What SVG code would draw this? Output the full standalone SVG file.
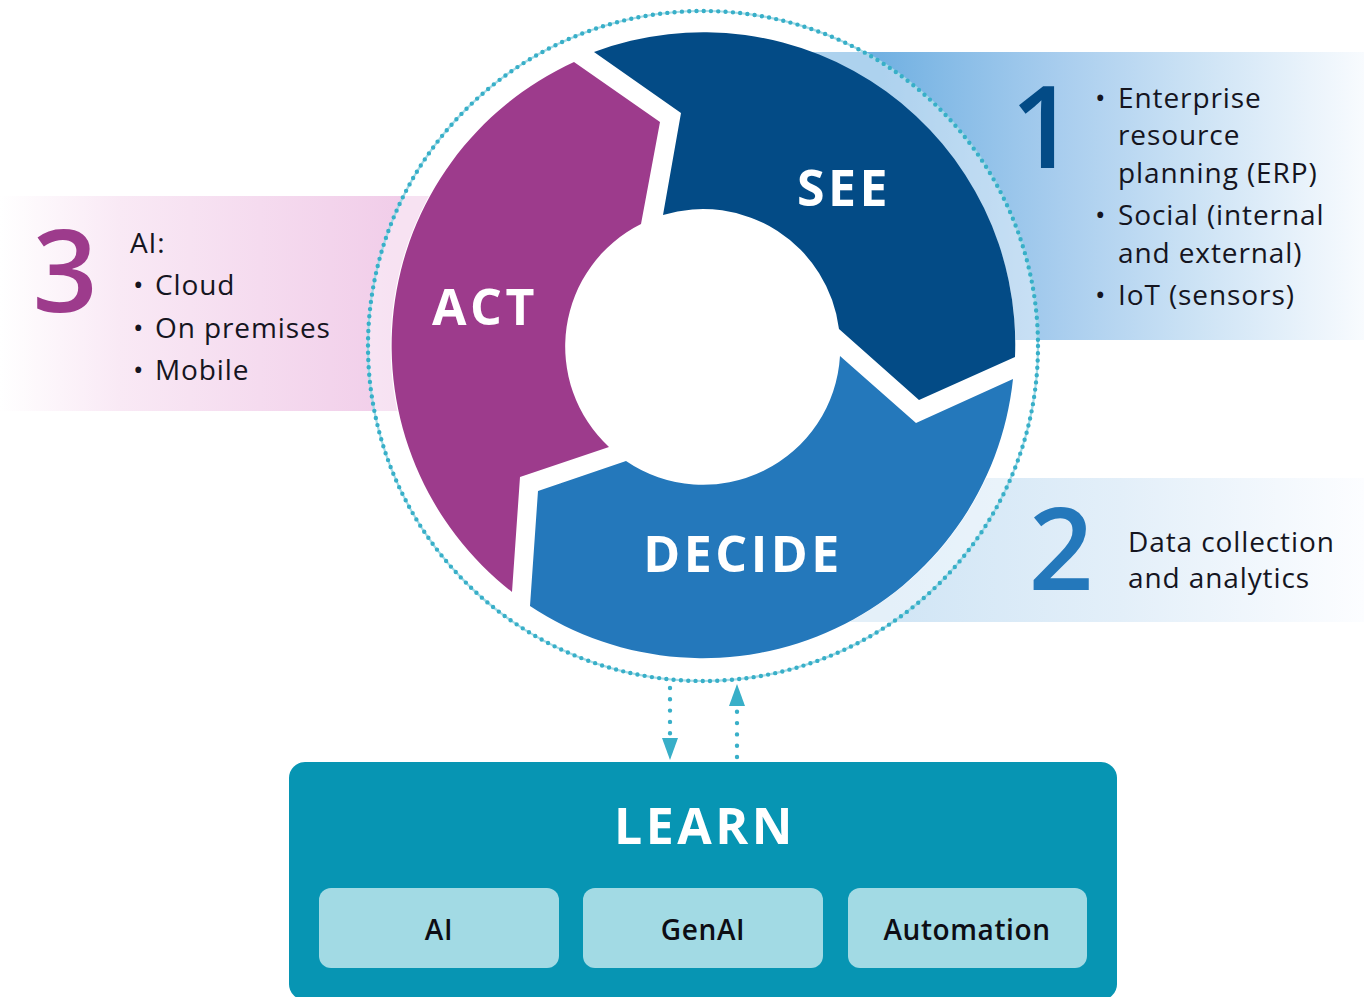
<svg xmlns="http://www.w3.org/2000/svg" width="1364" height="997" viewBox="0 0 1364 997">
<defs>
  <linearGradient id="g1" gradientUnits="userSpaceOnUse" x1="880" y1="0" x2="1364" y2="0">
    <stop offset="0" stop-color="#72b1e2"/>
    <stop offset="0.37" stop-color="#a8cdee"/>
    <stop offset="0.66" stop-color="#cde3f5"/>
    <stop offset="1" stop-color="#f8fbfe"/>
  </linearGradient>
  <linearGradient id="g2" gradientUnits="userSpaceOnUse" x1="880" y1="0" x2="1364" y2="0">
    <stop offset="0" stop-color="#d0e5f5"/>
    <stop offset="0.5" stop-color="#e3eff9"/>
    <stop offset="1" stop-color="#fcfdff"/>
  </linearGradient>
  <linearGradient id="g3" gradientUnits="userSpaceOnUse" x1="0" y1="0" x2="400" y2="0">
    <stop offset="0" stop-color="#ffffff"/>
    <stop offset="0.3" stop-color="#f9e9f5"/>
    <stop offset="1" stop-color="#f1cde9"/>
  </linearGradient>
  <marker id="ah" markerUnits="userSpaceOnUse" markerWidth="22" markerHeight="16" viewBox="0 0 22 16" refX="0" refY="8" orient="auto">
    <path d="M0,0 L22,8 L0,16 Z" fill="#38afc8"/>
  </marker>
</defs>
<style>
  text{font-family:"Open Sans","Noto Sans","Liberation Sans",sans-serif}
  .body{font-size:28px;fill:#15151f;letter-spacing:0.9px}
  .lbl{font-weight:700;font-size:50px;fill:#ffffff;letter-spacing:3.5px;text-anchor:middle}
  .num{font-weight:600;font-size:114px;text-anchor:middle}
  .sub{font-weight:600;font-size:28px;text-anchor:middle;fill:#0d0d14;letter-spacing:0.6px}
  .dots{fill:none;stroke:#38afc8;stroke-width:4.4;stroke-linecap:round}
  .subbox{fill:#a2dae4}
</style>
<rect width="1364" height="997" fill="#ffffff"/>

<g id="panel-1">
  <rect x="800" y="52" width="564" height="288" fill="url(#g1)"/>
  <text class="num" x="1043" y="168" fill="#034b86">1</text>
  <text class="body" x="1095" y="108">•</text>
  <text class="body" x="1118" y="108">Enterprise</text>
  <text class="body" x="1118" y="145">resource</text>
  <text class="body" x="1118" y="183">planning (ERP)</text>
  <text class="body" x="1095" y="225">•</text>
  <text class="body" x="1118" y="225">Social (internal</text>
  <text class="body" x="1118" y="263">and external)</text>
  <text class="body" x="1095" y="305">•</text>
  <text class="body" x="1118" y="305">IoT (sensors)</text>
</g>

<g id="panel-2">
  <rect x="840" y="478" width="524" height="144" fill="url(#g2)"/>
  <text class="num" x="1061" y="590" fill="#2478bb">2</text>
  <text class="body" x="1128" y="552">Data collection</text>
  <text class="body" x="1128" y="588">and analytics</text>
</g>

<g id="panel-3">
  <rect x="0" y="196" width="440" height="215" fill="url(#g3)"/>
  <text class="num" x="65" y="312" fill="#9d3b8c">3</text>
  <text class="body" x="130" y="253">AI:</text>
  <text class="body" x="133" y="295">•</text>
  <text class="body" x="155" y="295">Cloud</text>
  <text class="body" x="133" y="338">•</text>
  <text class="body" x="155" y="338">On premises</text>
  <text class="body" x="133" y="380">•</text>
  <text class="body" x="155" y="380">Mobile</text>
</g>

<g id="cycle-ring">
  <circle cx="703" cy="346" r="335" fill="#ffffff" fill-opacity="0.42"/>
  <circle cx="703" cy="346" r="312.5" fill="#ffffff"/>
  <circle cx="703" cy="346" r="335" fill="none" stroke="#a6dce7" stroke-width="2.2"/>
  <circle class="dots" cx="703" cy="346" r="335" stroke-dasharray="0 7.309"/>
</g>

<g id="see">
  <path d="M594,52 A312,312 0 0 1 1015,357 L919,400 L839,329 A137,137 0 0 0 663,215 L681,113 Z" fill="#034b86"/>
  <text class="lbl" x="844" y="206">SEE</text>
</g>

<g id="decide">
  <path d="M1013,379 A312,312 0 0 1 530,606 L538,491 L626,461 A137,137 0 0 0 840,356 L916,423 Z" fill="#2478bb"/>
  <text class="lbl" x="743" y="572">DECIDE</text>
</g>

<g id="act">
  <path d="M512,592 A312,312 0 0 1 574,62 L660,122 L641,224 A137,137 0 0 0 609,447 L520,477 Z" fill="#9d3b8c"/>
  <text class="lbl" x="485" y="325">ACT</text>
</g>

<g id="learn">
  <rect x="289" y="762" width="828" height="238" rx="16" fill="#0795b3"/>
  <text class="lbl" x="705" y="844">LEARN</text>
  <g id="learn-ai">
    <rect class="subbox" x="319" y="888" width="240" height="80" rx="12"/>
    <text class="sub" x="439" y="940">AI</text>
  </g>
  <g id="learn-genai">
    <rect class="subbox" x="583" y="888" width="240" height="80" rx="12"/>
    <text class="sub" x="703" y="940">GenAI</text>
  </g>
  <g id="learn-automation">
    <rect class="subbox" x="848" y="888" width="239" height="80" rx="12"/>
    <text class="sub" x="967" y="940">Automation</text>
  </g>
</g>

<g id="connectors">
  <path class="dots" d="M670,688 L670,738" stroke-width="5" stroke-dasharray="0 11.3" marker-end="url(#ah)"/>
  <path class="dots" d="M737,757 L737,706" stroke-width="5" stroke-dasharray="0 11.3" marker-end="url(#ah)"/>
</g>
</svg>
